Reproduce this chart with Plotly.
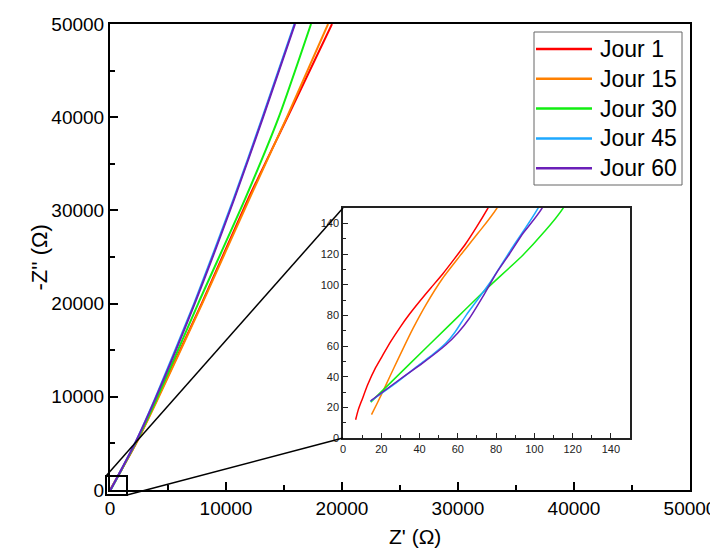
import plotly.graph_objects as go

# ---------------- data (Ω) ----------------
names = ["Jour 1", "Jour 15", "Jour 30", "Jour 45", "Jour 60"]
colors = ["#FF0000", "#FF8000", "#12EE12", "#1EA8FF", "#6B1FB8"]

# low-frequency (inset) part + main part of each Nyquist curve
j1_x = [6.6, 8.0, 10.1, 13.0, 17.1, 21.0, 25.0, 30.0, 34.6, 40.0, 46.0, 52.1, 58.0, 64.3, 70.0, 75.7,
        2250, 4050, 7900, 11900, 15300, 19140]
j1_y = [11.9, 18.5, 25.5, 35.0, 46.0, 54.5, 63.0, 72.5, 80.5, 89.0, 98.0, 107.0, 116.5, 127.0, 138.0, 149.8,
        5000, 9700, 20000, 31200, 40000, 50000]

j15_x = [14.9, 18.0, 22.4, 26.7, 31.1, 36.4, 43.4, 52.1, 60.8, 70.5, 80.4,
         2250, 4100, 7950, 12000, 15250, 18800]
j15_y = [15.2, 23.0, 34.5, 46.0, 57.5, 71.0, 87.0, 104.2, 118.3, 133.5, 149.8,
         5000, 9700, 20000, 31200, 40000, 50000]

j30_x = [14.5, 34.6, 55.6, 74.8, 94.1, 104.5, 115.0, 2200, 4000, 7600, 11640, 14550, 17330]
j30_y = [23.4, 48.0, 73.6, 97.0, 119.4, 133.5, 149.8, 5000, 9700, 20000, 31200, 40000, 50000]

j45_x = [14.2, 27.6, 39.9, 47.0, 53.8, 58.5, 64.3, 76.6, 88.8, 101.9,
         2150, 3850, 7250, 10650, 13150, 15900]
j45_y = [23.9, 35.8, 47.8, 54.5, 61.9, 69.0, 80.0, 100.9, 124.8, 149.8,
         5000, 9700, 20000, 31200, 40000, 50000]

j60_x = [14.5, 29.4, 41.6, 53.8, 60.0, 66.1, 73.0, 80.1, 87.0, 94.1, 104.0,
         2150, 3880, 7300, 10700, 13200, 15950]
j60_y = [24.3, 38.0, 48.8, 60.8, 68.5, 78.1, 92.0, 107.4, 120.0, 133.5, 149.8,
         5000, 9700, 20000, 31200, 40000, 50000]

series_x = [j1_x, j15_x, j30_x, j45_x, j60_x]
series_y = [j1_y, j15_y, j30_y, j45_y, j60_y]

main_ticks = [0, 10000, 20000, 30000, 40000, 50000]
inset_ticks = [0, 20, 40, 60, 80, 100, 120, 140]

FONT = "Arial, Liberation Sans, sans-serif"

# ---------------- figure ----------------
fig = go.Figure()
for n, c, xs, ys in zip(names, colors, series_x, series_y):
    fig.add_trace(go.Scatter(x=xs, y=ys, name=n, mode="lines", showlegend=False,
                             line=dict(color=c, width=2, shape="spline", smoothing=0.6),
                             xaxis="x", yaxis="y"))
for n, c, xs, ys in zip(names, colors, series_x, series_y):
    fig.add_trace(go.Scatter(x=xs, y=ys, name=n, mode="lines", showlegend=False,
                             line=dict(color=c, width=1.5, shape="spline", smoothing=0.6),
                             xaxis="x2", yaxis="y2"))

# the page places the figure 8px from the window's top-left corner
OFF = 8
W, H = 718 - OFF, 549 - OFF
L, R, T, B = 110 - OFF, 28, 24 - OFF, 59
pw, ph = W - L - R, H - T - B

def px(xp):  # window pixel -> paper x
    return (xp - OFF - L) / pw

def py(yp):  # window pixel -> paper y
    return (H - B - (yp - OFF)) / ph

axis_font = dict(family=FONT, size=19, color="black")
main_axis = dict(showgrid=False, zeroline=False, showline=True, linecolor="black", linewidth=2,
                 mirror=True, ticks="inside", ticklen=8, tickwidth=1.5, tickcolor="black",
                 tickfont=axis_font, tickformat="d", automargin=False,
                 minor=dict(ticks="inside", ticklen=5, tickwidth=1.5, tickcolor="black", dtick=5000))
inset_font = dict(family=FONT, size=11, color="#222222")
inset_axis = dict(showgrid=False, zeroline=False, showline=True, linecolor="#222222", linewidth=1.5,
                  mirror=True, ticks="inside", ticklen=5, tickwidth=1, tickcolor="#222222",
                  tickfont=inset_font, range=[0, 150], tickvals=inset_ticks, automargin=False,
                  minor=dict(ticks="inside", ticklen=3, tickwidth=1, tickcolor="#222222", dtick=10))

ix0, ix1 = px(343), px(630)
iy0, iy1 = py(438), py(208)

fig.update_layout(
    template="none",
    width=W, height=H,
    margin=dict(l=L, r=R, t=T, b=B, autoexpand=False),
    font=dict(family=FONT, color="black"),
    paper_bgcolor="white", plot_bgcolor="white",
    xaxis=dict(main_axis, range=[0, 50000], tickvals=main_ticks, domain=[0, 1]),
    yaxis=dict(main_axis, range=[0, 50000], tickvals=main_ticks, domain=[0, 1]),
    xaxis2=dict(inset_axis, domain=[ix0, ix1], anchor="y2"),
    yaxis2=dict(inset_axis, domain=[iy0, iy1], anchor="x2"),
    showlegend=False,
)

fig.add_annotation(text="-Z'' (Ω)", xref="paper", yref="paper", x=px(25), y=py(258),
                   textangle=-90, showarrow=False,
                   font=dict(family=FONT, size=22, color="black"))
fig.add_annotation(text="Z' (Ω)", xref="paper", yref="paper", x=px(415), y=py(536),
                   xanchor="center", yanchor="middle", showarrow=False,
                   font=dict(family=FONT, size=21, color="black"))

# zoom box and connector lines
rx0, rx1, ry0, ry1 = px(106), px(127), py(495), py(476)
fig.add_shape(type="rect", xref="paper", yref="paper", x0=rx0, x1=rx1, y0=ry0, y1=ry1,
              line=dict(color="black", width=2))
fig.add_shape(type="line", xref="paper", yref="paper", x0=rx0, y0=ry1, x1=ix0, y1=iy1,
              line=dict(color="black", width=1.5))
fig.add_shape(type="line", xref="paper", yref="paper", x0=rx1, y0=ry0, x1=ix0, y1=iy0,
              line=dict(color="black", width=1.5))

# legend box (drawn to match the original's long sample lines)
fig.add_shape(type="rect", xref="paper", yref="paper", x0=px(534), x1=px(682), y0=py(185), y1=py(32),
              line=dict(color="#666666", width=1), fillcolor="white")
for i, (n, c) in enumerate(zip(names, colors)):
    yy = py(49 + 29.8 * i)
    fig.add_shape(type="line", xref="paper", yref="paper", x0=px(536), x1=px(592), y0=yy, y1=yy,
                  line=dict(color=c, width=2.5))
    fig.add_annotation(text=n, xref="paper", yref="paper", x=px(598), y=yy,
                       xanchor="left", yanchor="middle", showarrow=False,
                       font=dict(family=FONT, size=23, color="black"))

fig.write_html("out.html")
